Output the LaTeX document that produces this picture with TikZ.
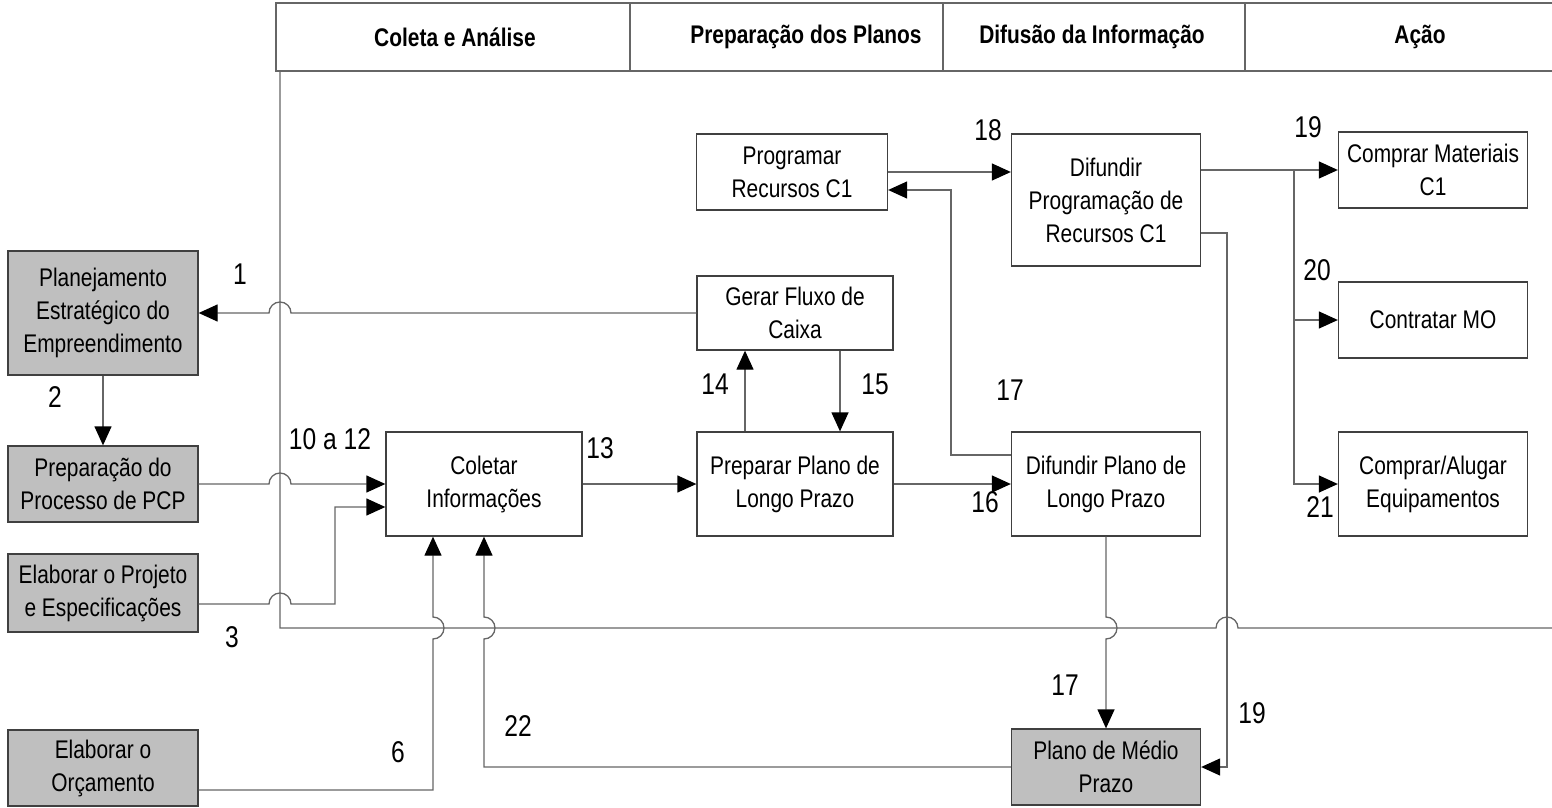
\documentclass[tikz,border=0pt]{standalone}
\usepackage{fontspec}
\setmainfont{Liberation Sans}[FakeStretch=0.82]
\usetikzlibrary{arrows.meta}
\begin{document}
\begin{tikzpicture}[x=1pt,y=1pt,
  every node/.style={font=\fontsize{25.5}{33}\selectfont},
  proc/.style={draw=black!75, line width=1.3pt, align=center, inner sep=0pt},
  ext/.style={proc, fill=black!25},
  link/.style={draw=black!60, line width=1.3pt},
  arr/.style={link, -{Triangle[length=19pt,width=17pt,color=black]}},
  lane/.style={draw=black!60, line width=1.3pt},
  num/.style={font=\fontsize{30}{34}\selectfont},
  head/.style={font=\bfseries\fontsize{25.5}{30}\selectfont}
]
\useasboundingbox (0,0) rectangle (1552,-808);

% header of the swimlanes
\draw[lane] (1552,-3) -- (276,-3) -- (276,-71) -- (1552,-71);
\draw[lane] (630,-3) -- (630,-71);
\draw[lane] (943,-3) -- (943,-71);
\draw[lane] (1245,-3) -- (1245,-71);
\node[head] (h1) at (455,-37) {Coleta e Análise};
\node[head] (h2) at (806,-37) {Preparação dos Planos};
\node[head] (h3) at (1092,-37) {Difusão da Informação};
\node[head] (h4) at (1420,-37) {Ação};

% external (gray) processes
\node[ext, minimum width=190pt, minimum height=124pt] (plan) at (103,-313) {Planejamento\\Estratégico do\\Empreendimento};
\node[ext, minimum width=190pt, minimum height=76pt] (pcp) at (103,-484) {Preparação do\\Processo de PCP};
\node[ext, minimum width=190pt, minimum height=78pt] (proj) at (103,-593) {Elaborar o Projeto\\e Especificações};
\node[ext, minimum width=190pt, minimum height=76pt] (orc) at (103,-768) {Elaborar o\\Orçamento};
\node[ext, minimum width=189pt, minimum height=76pt] (medio) at (1106,-767) {Plano de Médio\\Prazo};

% internal processes
\node[proc, minimum width=196pt, minimum height=104pt] (col) at (484,-484) {Coletar\\Informações};
\node[proc, minimum width=196pt, minimum height=104pt] (prep) at (795,-484) {Preparar Plano de\\Longo Prazo};
\node[proc, minimum width=196pt, minimum height=74pt] (fluxo) at (795,-313) {Gerar Fluxo de\\Caixa};
\node[proc, minimum width=191pt, minimum height=76pt] (prog) at (792,-172) {Programar\\Recursos C1};
\node[proc, minimum width=189pt, minimum height=132pt] (difprog) at (1106,-200) {Difundir\\Programação de\\Recursos C1};
\node[proc, minimum width=189pt, minimum height=104pt] (difpl) at (1106,-484) {Difundir Plano de\\Longo Prazo};
\node[proc, minimum width=189pt, minimum height=76pt] (mat) at (1433,-170) {Comprar Materiais\\C1};
\node[proc, minimum width=189pt, minimum height=76pt] (mo) at (1433,-320) {Contratar MO};
\node[proc, minimum width=189pt, minimum height=104pt] (equip) at (1433,-484) {Comprar/Alugar\\Equipamentos};

% swimlane boundary
\coordinate (laneL) at (280,0);
\draw[lane] (280,-71) -- (280,-628) -- (1216,-628)
  arc[start angle=180, end angle=0, radius=11pt] -- (1552,-628);

% connectors
\draw[arr] (fluxo.west) -- ([xshift=11pt]fluxo.west -| laneL)
  arc[start angle=0, end angle=180, radius=11pt] -- (plan.east);
\draw[arr] (plan.south) -- (pcp.north);
\draw[arr] (pcp.east) -- ([xshift=-11pt]pcp.east -| laneL)
  arc[start angle=180, end angle=0, radius=11pt] -- (col.west);
\draw[arr] ([yshift=-11pt]proj.east) -- ([xshift=-11pt,yshift=-11pt]proj.east -| laneL)
  arc[start angle=180, end angle=0, radius=11pt] -- (335,-604)
  |- ([yshift=-23pt]col.west);
\draw[arr] ([yshift=-22pt]orc.east) -- (433,-790) -- (433,-639)
  arc[start angle=-90, end angle=90, radius=11pt] -- ([xshift=-51pt]col.south);
\draw[arr] (medio.west) -- (484,-767) -- (484,-639)
  arc[start angle=-90, end angle=90, radius=11pt] -- (col.south);
\draw[arr] (col.east) -- (prep.west);
\draw[arr] ([xshift=-50pt]prep.north) -- ([xshift=-50pt]fluxo.south);
\draw[arr] ([xshift=45pt]fluxo.south) -- ([xshift=45pt]prep.north);
\draw[arr] (prep.east) -- (difpl.west);
\draw[arr] ([yshift=29pt]difpl.west) -- (951,-455) |- ([yshift=-18pt]prog.east);
\draw[arr] (prog.east) -- (prog.east -| difprog.west);
\coordinate (br) at (1294,-170);
\draw[arr] (difprog.east |- mat.west) -- (mat.west);
\draw[arr] (br) |- (mo.west);
\draw[arr] (br) |- (equip.west);
\draw[arr] ([yshift=-33pt]difprog.east) -- (1227,-233) |- (medio.east);
\draw[arr] (difpl.south) -- (1106,-617)
  arc[start angle=90, end angle=-90, radius=11pt] -- (medio.north);

% connector numbers
\node[num] (n1) at (240,-274) {1};
\node[num] (n2) at (55,-397) {2};
\node[num] (n10) at (330,-439) {10 a 12};
\node[num] (n3) at (232,-637) {3};
\node[num] (n6) at (398,-752) {6};
\node[num] (n22) at (518,-726) {22};
\node[num] (n13) at (600,-448) {13};
\node[num] (n14) at (715,-384) {14};
\node[num] (n15) at (875,-384) {15};
\node[num] (n16) at (985,-502) {16};
\node[num] (n17a) at (1010,-390) {17};
\node[num] (n18) at (988,-130) {18};
\node[num] (n19a) at (1308,-127) {19};
\node[num] (n20) at (1317,-270) {20};
\node[num] (n21) at (1320,-507) {21};
\node[num] (n17b) at (1065,-685) {17};
\node[num] (n19b) at (1252,-713) {19};
\end{tikzpicture}
\end{document}
